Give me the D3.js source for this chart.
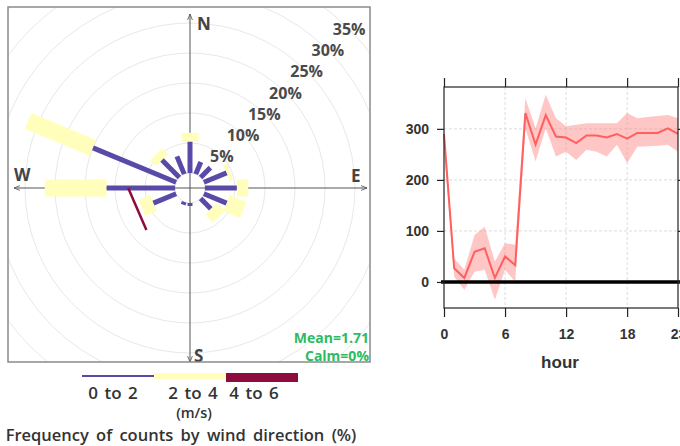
<!DOCTYPE html>
<html>
<head>
<meta charset="utf-8">
<script src="https://cdn.jsdelivr.net/npm/d3@7"></script>
<style>
  html, body { margin: 0; padding: 0; background: #fff; }
  svg { display: block; }
</style>
</head>
<body>
<svg id="vis"></svg>
<script>
// wind rose: frequency (%) per direction, by speed bin
const directions = [0, 22.5, 45, 67.5, 90, 112.5, 135, 157.5, 180, 202.5, 225, 247.5, 270, 292.5, 315, 337.5];
const speed0to2 = [5.2, 2.2, 2.3, 4.1, 5.3, 4.1, 2.4, 0, 0.5, 0.5, 0, 4.1, 11.4, 15.0, 4.1, 3.2];
const speed2to4 = [1.5, 0, 0, 0.6, 1.9, 3.0, 1.9, 0, 0, 0, 0, 2.1, 10.3, 11.7, 1.4, 0];
// the 4-6 m/s mark is drawn as a single stroke between two (direction, %) points
const speed4to6 = [{fromDir: 270, fromPct: 7.8, toDir: 226, toPct: 7.6}];
const ringPcts = [5, 10, 15, 20, 25, 30, 35];
const speedLabels = ["0 to 2", "2 to 4", "4 to 6"];
const meanSpeed = "1.71";
const calmPct = "0%";

// hourly series with its band
const hours = [0, 1, 2, 3, 4, 5, 6, 7, 8, 9, 10, 11, 12, 13, 14, 15, 16, 17, 18, 19, 20, 21, 22, 23];
const hourValue = [290, 27, 8, 59, 66, 8, 50, 33, 331, 269, 327, 285, 283, 272, 287, 287, 283, 290, 281, 292, 292, 292, 301, 290];
const hourUpper = [300, 46, 24, 92, 108, 40, 76, 73, 360, 301, 367, 321, 305, 308, 311, 311, 311, 311, 331, 321, 323, 325, 327, 321];
const hourLower = [262, 10, -15, 20, 24, -35, 24, 0, 301, 236, 301, 246, 255, 239, 259, 255, 246, 269, 233, 265, 266, 267, 269, 255];
const hourTicks = [0, 6, 12, 18, 23];
const valueTicks = [0, 100, 200, 300];

const width = 680, height = 446;
const purple = "#5a4aa8", yellow = "#ffffbb", maroon = "#8e0b3e";
const font = "'Open Sans', sans-serif";

const svg = d3.select("#vis").attr("width", width).attr("height", height);

// ---------- wind rose ----------
const box = {x0: 8, y0: 7, x1: 370, y1: 362};
const cx = 190, cy = 188;
const r = d3.scaleLinear().domain([0, 35]).range([15, 225]);

svg.append("defs").append("clipPath").attr("id", "roseClip")
  .append("rect").attr("x", box.x0).attr("y", box.y0)
  .attr("width", box.x1 - box.x0).attr("height", box.y1 - box.y0);

const arrow = svg.select("defs").append("marker")
  .attr("id", "arr").attr("viewBox", "0 0 10 10").attr("refX", 10).attr("refY", 5)
  .attr("markerWidth", 6).attr("markerHeight", 6).attr("orient", "auto-start-reverse")
  .attr("markerUnits", "userSpaceOnUse");
arrow.append("path").attr("d", "M0,1 L10,5 L0,9").attr("fill", "none").attr("stroke", "#555").attr("stroke-width", 1.4);

const rose = svg.append("g").attr("clip-path", "url(#roseClip)");
const g = rose.append("g").attr("transform", `translate(${cx},${cy})`);

const rad = d => d * Math.PI / 180;
const px = (dir, pct) => Math.sin(rad(dir)) * r(pct);
const py = (dir, pct) => -Math.cos(rad(dir)) * r(pct);

// rings
g.selectAll("circle.ring").data([0].concat(ringPcts, [40])).enter().append("circle")
  .attr("r", d => r(d)).attr("fill", "none").attr("stroke", "#e8e8e8").attr("stroke-width", 1);

// axes with arrows
g.append("line").attr("x1", 0).attr("x2", 0).attr("y1", 14 - cy).attr("y2", 362 - cy)
  .attr("stroke", "#555").attr("stroke-width", 1)
  .attr("marker-start", "url(#arr)").attr("marker-end", "url(#arr)");
g.append("line").attr("y1", 0).attr("y2", 0).attr("x1", 14 - cx).attr("x2", 367 - cx)
  .attr("stroke", "#555").attr("stroke-width", 1)
  .attr("marker-start", "url(#arr)").attr("marker-end", "url(#arr)");

const segs = directions.map((dir, i) => ({
  dir: dir,
  p0: speed0to2[i],
  p1: speed0to2[i] + speed2to4[i],
  y: speed2to4[i]
}));

// 2-4 paddles
g.selectAll("line.y").data(segs.filter(d => d.y > 0)).enter().append("line")
  .attr("x1", d => px(d.dir, d.p0)).attr("y1", d => py(d.dir, d.p0))
  .attr("x2", d => px(d.dir, d.p1)).attr("y2", d => py(d.dir, d.p1))
  .attr("stroke", yellow).attr("stroke-width", 17).attr("stroke-linecap", "butt");

// 0-2 paddles
g.selectAll("line.p").data(segs.filter(d => d.p0 > 0)).enter().append("line")
  .attr("x1", d => px(d.dir, 0)).attr("y1", d => py(d.dir, 0))
  .attr("x2", d => px(d.dir, d.p0)).attr("y2", d => py(d.dir, d.p0))
  .attr("stroke", purple).attr("stroke-width", 5).attr("stroke-linecap", "butt");

// 4-6
g.selectAll("line.m").data(speed4to6).enter().append("line")
  .attr("x1", d => px(d.fromDir, d.fromPct)).attr("y1", d => py(d.fromDir, d.fromPct))
  .attr("x2", d => px(d.toDir, d.toPct)).attr("y2", d => py(d.toDir, d.toPct))
  .attr("stroke", maroon).attr("stroke-width", 2.5);

// ring labels along 45 degrees
g.selectAll("text.rl").data(ringPcts).enter().append("text")
  .attr("x", d => px(45, d)).attr("y", d => py(45, d))
  .attr("text-anchor", "middle").attr("dominant-baseline", "central")
  .attr("font-family", font).attr("font-weight", 700).attr("font-size", 16)
  .attr("fill", "#4a4a4a").text(d => d + "%");

// compass letters
const compass = [
  {t: "N", x: 197, y: 30},
  {t: "W", x: 14, y: 181},
  {t: "E", x: 351, y: 182},
  {t: "S", x: 194, y: 362}
];
svg.selectAll("text.cmp").data(compass).enter().append("text")
  .attr("x", d => d.x).attr("y", d => d.y)
  .attr("font-family", font).attr("font-weight", 700).attr("font-size", 17)
  .attr("fill", "#444").text(d => d.t);

svg.append("text").attr("x", 369).attr("y", 343).attr("text-anchor", "end")
  .attr("font-family", font).attr("font-weight", 700).attr("font-size", 14)
  .attr("fill", "#2dbb63").text("Mean=" + meanSpeed);
svg.append("text").attr("x", 369).attr("y", 361).attr("text-anchor", "end")
  .attr("font-family", font).attr("font-weight", 700).attr("font-size", 14)
  .attr("fill", "#2dbb63").text("Calm=" + calmPct);

svg.append("rect").attr("x", box.x0).attr("y", box.y0)
  .attr("width", box.x1 - box.x0).attr("height", box.y1 - box.y0)
  .attr("fill", "none").attr("stroke", "#8a8a8a").attr("stroke-width", 1.5);

// legend
const lx = d3.scaleBand().domain(speedLabels).range([82, 298]);
const legendStyle = [
  {c: purple, h: 2, y: 375},
  {c: yellow, h: 6, y: 373},
  {c: maroon, h: 9, y: 373}
];
svg.selectAll("rect.lg").data(speedLabels).enter().append("rect")
  .attr("x", d => lx(d)).attr("width", lx.bandwidth())
  .attr("y", (d, i) => legendStyle[i].y).attr("height", (d, i) => legendStyle[i].h)
  .attr("fill", (d, i) => legendStyle[i].c);
const labelX = [113, 193, 254];
svg.selectAll("text.lg").data(speedLabels).enter().append("text")
  .attr("x", (d, i) => labelX[i]).attr("y", 399).attr("text-anchor", "middle")
  .attr("font-family", font).attr("font-weight", 600).attr("font-size", 17)
  .attr("word-spacing", 2).attr("fill", "#333").text(d => d);
svg.append("text").attr("x", 194).attr("y", 418).attr("text-anchor", "middle")
  .attr("font-family", font).attr("font-weight", 600).attr("font-size", 14.5)
  .attr("fill", "#333").text("(m/s)");
svg.append("text").attr("x", 181).attr("y", 441).attr("text-anchor", "middle")
  .attr("font-family", font).attr("font-weight", 600).attr("font-size", 16.5)
  .attr("word-spacing", 3).attr("fill", "#333").text("Frequency of counts by wind direction (%)");

// ---------- hourly panel ----------
const pl = {left: 444, right: 678, top: 87, bottom: 308};
const x = d3.scaleLinear().domain([0, 23]).range([pl.left, pl.right]);
const y = d3.scaleLinear().domain([-51, 382]).range([pl.bottom, pl.top]);

const panel = svg.append("g");

panel.selectAll("line.gx").data(hourTicks.slice(1, 4)).enter().append("line")
  .attr("x1", d => x(d)).attr("x2", d => x(d)).attr("y1", pl.top).attr("y2", pl.bottom)
  .attr("stroke", "#dcdcdc").attr("stroke-dasharray", "3,2");
panel.selectAll("line.gy").data(valueTicks.slice(1)).enter().append("line")
  .attr("y1", d => y(d)).attr("y2", d => y(d)).attr("x1", pl.left).attr("x2", pl.right)
  .attr("stroke", "#dcdcdc").attr("stroke-dasharray", "3,2");

const rows = hours.map((h, i) => ({h: h, v: hourValue[i], lo: hourLower[i], hi: hourUpper[i]}));
panel.append("path").datum(rows)
  .attr("d", d3.area().x(d => x(d.h)).y0(d => y(d.lo)).y1(d => y(d.hi)))
  .attr("fill", "#ff8080").attr("fill-opacity", 0.45);
panel.append("path").datum(rows)
  .attr("d", d3.line().x(d => x(d.h)).y(d => y(d.v)))
  .attr("fill", "none").attr("stroke", "#ff5f5f").attr("stroke-width", 2);

panel.append("line").attr("x1", 441).attr("x2", width).attr("y1", y(0)).attr("y2", y(0))
  .attr("stroke", "#000").attr("stroke-width", 3.5);

panel.append("rect").attr("x", pl.left).attr("y", pl.top)
  .attr("width", pl.right - pl.left).attr("height", pl.bottom - pl.top)
  .attr("fill", "none").attr("stroke", "#222").attr("stroke-width", 1.2);

const axisStyle = sel => {
  sel.select(".domain").remove();
  sel.selectAll(".tick line").attr("stroke", "#222").attr("stroke-width", 1.2);
  sel.selectAll(".tick text").attr("font-family", "'Liberation Sans', Arial, sans-serif")
    .attr("font-weight", 700).attr("font-size", 14).attr("fill", "#333");
};
panel.append("g").attr("transform", `translate(0,${pl.bottom})`)
  .call(d3.axisBottom(x).tickValues(hourTicks).tickSize(9).tickPadding(12)).call(axisStyle);
panel.append("g").attr("transform", `translate(0,${pl.top})`)
  .call(d3.axisTop(x).tickValues(hourTicks).tickSize(9).tickFormat("")).call(axisStyle);
panel.append("g").attr("transform", `translate(${pl.left},0)`)
  .call(d3.axisLeft(y).tickValues(valueTicks).tickSize(7).tickPadding(8)).call(axisStyle);
panel.append("g").attr("transform", `translate(${pl.right},0)`)
  .call(d3.axisRight(y).tickValues(valueTicks).tickSize(7).tickFormat("")).call(axisStyle);

svg.append("text").attr("x", 560).attr("y", 368).attr("text-anchor", "middle")
  .attr("font-family", "'Liberation Sans', Arial, sans-serif").attr("font-size", 17)
  .attr("font-weight", 700).attr("fill", "#333").text("hour");
</script>
</body>
</html>
